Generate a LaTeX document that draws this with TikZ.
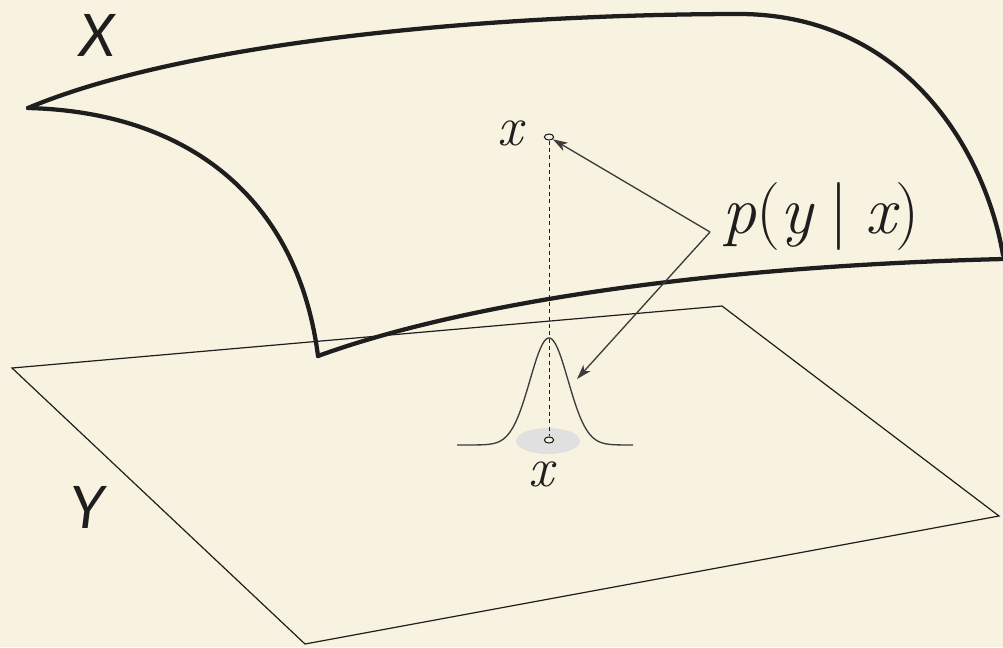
\documentclass[tikz,border=0pt]{standalone}
\usepackage{fontspec}
\newfontfamily\labfont{Lato}
\usetikzlibrary{arrows.meta,shapes.geometric}
\definecolor{bg}{RGB}{248,242,224}
\definecolor{ink}{RGB}{30,30,30}
\definecolor{arrowink}{RGB}{60,60,60}
\tikzset{
  surf/.style={draw=ink, line width=3.2pt, line join=round, line cap=round},
  planeline/.style={draw=ink, line width=0.9pt, line join=miter},
  pt/.style={draw=ink, ellipse, minimum width=7pt, minimum height=4.5pt, inner sep=0pt, line width=0.8pt, fill=bg},
  arr/.style={draw=arrowink, line width=1pt, -{Stealth[length=11pt,width=7pt,inset=3pt]}},
  dashline/.style={draw=ink, line width=0.7pt, dash pattern=on 3pt off 2.5pt},
  gauss/.style={draw=arrowink, line width=1pt},
  setlab/.style={font=\labfont\itshape\fontsize{44}{50}\selectfont, text=ink},
  varlab/.style={font=\itshape\fontsize{42}{48}\selectfont, text=ink, inner sep=0pt}
}
\begin{document}
\begin{tikzpicture}[x=0.75pt,y=-0.75pt]
\fill[bg] (0,0) rectangle (1003,647);
\useasboundingbox (0,0) rectangle (1003,647);
% plane Y
\draw[planeline] (12,368) -- (722,306) -- (999,516) -- (305,644) -- cycle;
% surface X
\draw[surf] (28,108) .. controls (190,40) and (500,14) .. (742,14) .. controls (905,16) and (985,150) .. (1003,255);
\draw[surf] (28,108) .. controls (190,112) and (298,200) .. (318,356);
\draw[surf] (318,356) .. controls (430,315) and (650,268) .. (1003,259);
% labels of sets
\node[setlab] (Xlab) at (97,35) {X};
\node[setlab] (Ylab) at (88,507) {Y};
% gaussian
\fill[black!12] (548,441) ellipse [x radius=32, y radius=13];
\draw[gauss] plot[domain=457:633, samples=120, smooth] (\x, {445-107*exp(-((\x-549)^2)/(2*19^2))});
% points
\node[pt] (xt) at (549,137) {};
\node[pt] (xb) at (549,440) {};
\draw[dashline] (xt) -- (xb);
\node[varlab] (xtl) at (510,133) {x};
\node[varlab] (xbl) at (541,474) {x};
% label p(y|x)
\node[font=\fontsize{51}{56}\selectfont, text=ink, inner sep=0pt] (plab) at (821,216) {\itshape p\upshape(\itshape y\hspace{0.25em}\upshape|\hspace{0.25em}\itshape x\upshape)};
\coordinate (v) at (710,232);
\coordinate (g) at (577,379);
\draw[arr] (v) -- (xt);
\draw[arr] (v) -- (g);
\end{tikzpicture}
\end{document}
